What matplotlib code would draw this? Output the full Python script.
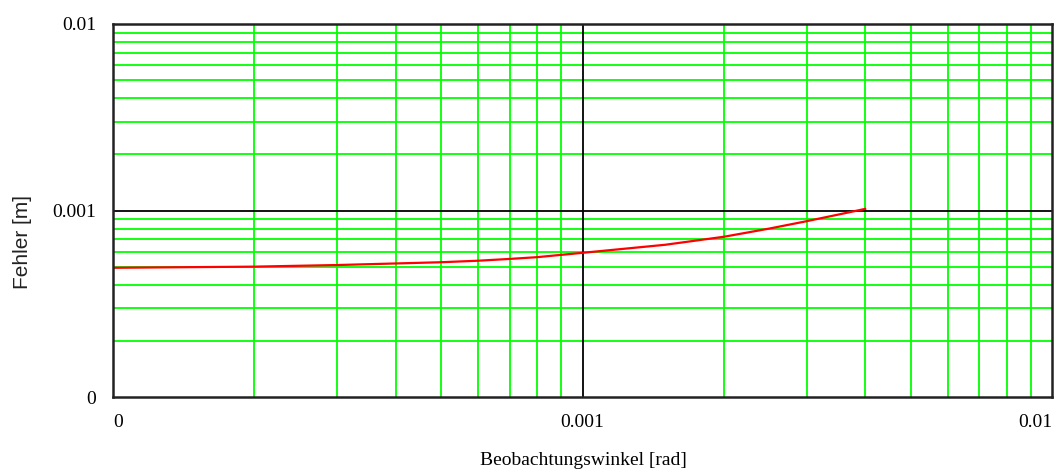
import matplotlib
matplotlib.use('Agg')
import matplotlib.pyplot as plt
from matplotlib.ticker import FixedLocator, FixedFormatter, NullFormatter

# values (log-log)
winkel = [1e-4, 2e-4, 3e-4, 4e-4, 5e-4, 6e-4, 7e-4, 8e-4, 1e-3,
          1.5e-3, 2e-3, 2.5e-3, 3e-3, 3.5e-3, 4e-3]
fehler = [4.93e-4, 5.0e-4, 5.1e-4, 5.2e-4, 5.28e-4, 5.38e-4, 5.5e-4, 5.62e-4, 5.93e-4,
          6.55e-4, 7.23e-4, 8.0e-4, 8.76e-4, 9.5e-4, 1.02e-3]

tick_vals = [1e-4, 1e-3, 1e-2]
tick_labels = ["0", "0.001", "0.01"]
minor_vals = [m * d for d in (1e-4, 1e-3) for m in range(2, 10)]

serif = "Liberation Serif"

fig = plt.figure(figsize=(10.59, 4.73), dpi=100)
ax = fig.add_axes([113 / 1059, 76 / 473, 939 / 1059, 373 / 473])

ax.set_xscale('log')
ax.set_yscale('log')
ax.set_xlim(1e-4, 1e-2)
ax.set_ylim(1e-4, 1e-2)

# grid: green minor lines, black line at 0.001
for v in minor_vals:
    ax.axvline(v, color='#00ff00', lw=1.3, zorder=1)
    ax.axhline(v, color='#00ff00', lw=1.3, zorder=1)
ax.axvline(1e-3, color='black', lw=1.3, zorder=1)
ax.axhline(1e-3, color='black', lw=1.3, zorder=1)

ax.plot(winkel, fehler, color='#ff0000', lw=1.6, zorder=3)

for ax_ in (ax.xaxis, ax.yaxis):
    ax_.set_major_locator(FixedLocator(tick_vals))
    ax_.set_major_formatter(FixedFormatter(tick_labels))
    ax_.set_minor_locator(FixedLocator(minor_vals))
    ax_.set_minor_formatter(NullFormatter())
ax.tick_params(which='both', length=0)
ax.tick_params(axis='x', pad=12)
ax.tick_params(axis='y', pad=12)
for lab in ax.get_xticklabels() + ax.get_yticklabels():
    lab.set_fontfamily(serif)
    lab.set_fontsize(14)
xl = ax.get_xticklabels()
xl[0].set_horizontalalignment('left')
xl[-1].set_horizontalalignment('right')

for s in ax.spines.values():
    s.set_color('#222222')
    s.set_linewidth(1.8)
    s.set_zorder(4)

fig.text(583 / 1059, 1 - 460 / 473, "Beobachtungswinkel [rad]", family=serif,
         fontsize=14, ha='center', va='center')
fig.text(23 / 1059, 1 - 242 / 473, "Fehler [m]", family='Liberation Sans',
         fontsize=15, rotation=90, ha='center', va='center', color='#222222')

fig.savefig('out.png', dpi=100)
plt.close(fig)
